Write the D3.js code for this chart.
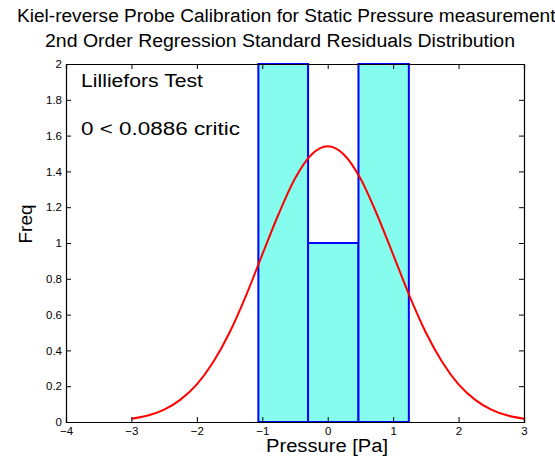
<!DOCTYPE html>
<html><head><meta charset="utf-8">
<script src="https://cdn.jsdelivr.net/npm/d3@7/dist/d3.min.js"></script>
<style>body{margin:0;background:#fff}svg{display:block}text{font-family:"Liberation Sans",Arial,sans-serif;fill:#000}</style>
</head><body>
<script>
// data
const binEdges = [-1.06, -0.30, 0.47, 1.24];
const binCounts = [2, 1, 2];
const curveX = [-3, -2.75, -2.5, -2.25, -2, -1.75, -1.5, -1.25, -1, -0.75, -0.5, -0.25, 0, 0.25, 0.5, 0.75, 1, 1.25, 1.5, 1.75, 2, 2.25, 2.5, 2.75, 3];
const curveY = [0.018, 0.036, 0.069, 0.125, 0.21, 0.335, 0.50, 0.705, 0.935, 1.162, 1.36, 1.493, 1.54, 1.493, 1.36, 1.162, 0.935, 0.705, 0.50, 0.335, 0.21, 0.125, 0.069, 0.036, 0.018];
const xTicks = [-4, -3, -2, -1, 0, 1, 2, 3];
const yTicks = [0, 0.2, 0.4, 0.6, 0.8, 1, 1.2, 1.4, 1.6, 1.8, 2];
const titleLines = ["Kiel-reverse Probe Calibration for Static Pressure measurements", "2nd Order Regression Standard Residuals Distribution"];
const annotations = ["Lilliefors Test", "0 < 0.0886 critic"];

const W = 555, H = 461;
const L = 66, R = 524, T = 64, B = 422;
const svg = d3.select("body").append("svg").attr("width", W).attr("height", H);
const x = d3.scaleLinear().domain([-4, 3]).range([L, R]);
const y = d3.scaleLinear().domain([0, 2]).range([B, T]);

// bars
const bins = binCounts.map((c, i) => ({x0: binEdges[i], x1: binEdges[i + 1], c}));
svg.append("g").selectAll("rect").data(bins).join("rect")
  .attr("x", d => x(d.x0)).attr("y", d => y(d.c))
  .attr("width", d => x(d.x1) - x(d.x0)).attr("height", d => y(0) - y(d.c))
  .attr("fill", "#86fcee").attr("stroke", "#0000ff").attr("stroke-width", 2);

// curve
const pts = curveX.map((v, i) => [v, curveY[i]]);
svg.append("path").datum(pts)
  .attr("d", d3.line().x(d => x(d[0])).y(d => y(d[1])).curve(d3.curveMonotoneX))
  .attr("fill", "none").attr("stroke", "#ff0000").attr("stroke-width", 2);

// axes (MATLAB style box, ticks inward)
const tk = 5;
const gB = svg.append("g").attr("transform", `translate(0,${B})`)
  .call(d3.axisBottom(x).tickValues(xTicks).tickSize(-tk).tickPadding(5).tickFormat(d3.format("d")));
const gL = svg.append("g").attr("transform", `translate(${L},0)`)
  .call(d3.axisLeft(y).tickValues(yTicks).tickSize(-tk).tickPadding(4).tickFormat(d => Number.isInteger(d) ? d3.format("d")(d) : d3.format(".1f")(d)));
const gT = svg.append("g").attr("transform", `translate(0,${T})`)
  .call(d3.axisTop(x).tickValues(xTicks).tickSize(-tk).tickFormat(""));
const gR = svg.append("g").attr("transform", `translate(${R},0)`)
  .call(d3.axisRight(y).tickValues(yTicks).tickSize(-tk).tickFormat(""));
[gB, gL, gT, gR].forEach(g => {
  g.select(".domain").attr("stroke", "#000").attr("stroke-width", 1.2);
  g.selectAll(".tick line").attr("stroke", "#000");
  g.selectAll("text").style("font-size", "11.5px").attr("fill", "#000");
});

// titles
svg.append("text").attr("x", 17).attr("y", 22).attr("textLength", 548).attr("lengthAdjust", "spacingAndGlyphs").style("font-size", "18px").text(titleLines[0]);
svg.append("text").attr("x", 45).attr("y", 47).attr("textLength", 470).attr("lengthAdjust", "spacingAndGlyphs").style("font-size", "18px").text(titleLines[1]);

// axis labels
svg.append("text").attr("x", 266).attr("y", 452).attr("textLength", 122).attr("lengthAdjust", "spacingAndGlyphs").style("font-size", "18px").text("Pressure [Pa]");
svg.append("text").attr("transform", "translate(32,224) rotate(-90)").attr("text-anchor", "middle").style("font-size", "19px").text("Freq");

// annotations
svg.append("text").attr("x", 81).attr("y", 87).attr("textLength", 122).attr("lengthAdjust", "spacingAndGlyphs").style("font-size", "17.5px").text(annotations[0]);
svg.append("text").attr("x", 81).attr("y", 135).attr("textLength", 159).attr("lengthAdjust", "spacingAndGlyphs").style("font-size", "17.5px").text(annotations[1]);
</script>
</body></html>
